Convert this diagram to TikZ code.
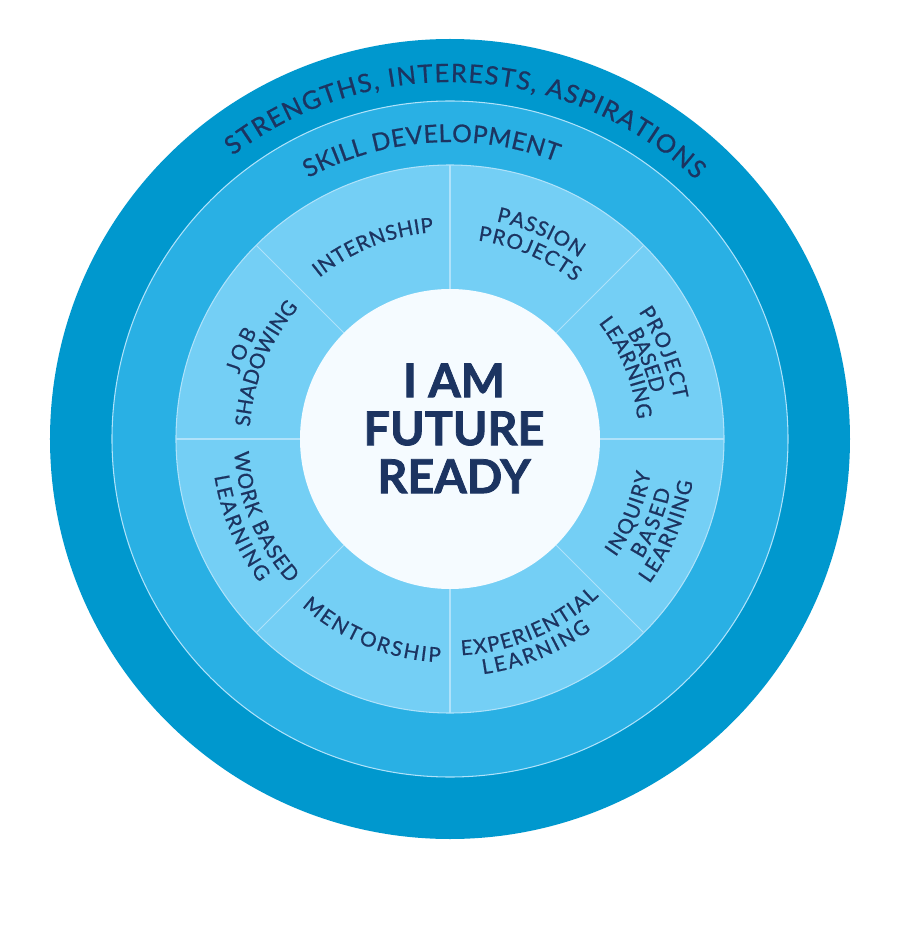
\documentclass[tikz,border=0pt]{standalone}
\usepackage{fontspec}
\setmainfont{Lato}
\newfontfamily\labelfamily[FakeBold=0.7]{Lato}
\newfontfamily\heavyfamily[BoldFeatures={FakeBold=1.6}]{Lato}
\usetikzlibrary{decorations.text}
\definecolor{navy}{RGB}{28,52,97}
\definecolor{outerblue}{RGB}{0,152,206}
\definecolor{midblue}{RGB}{41,176,228}
\definecolor{innerblue}{RGB}{116,207,245}
\definecolor{coreblue}{RGB}{245,251,255}
\definecolor{lineblue}{RGB}{175,226,250}
\newcommand\outerfont{\labelfamily\fontsize{14.4}{14.4}\selectfont}
\newcommand\skillfont{\labelfamily\fontsize{14}{14}\selectfont}
\newcommand\wedgefont{\labelfamily\fontsize{11.7}{11.7}\selectfont}

\begin{document}
\begin{tikzpicture}[x=0.02cm, y=0.02cm,
    arctext/.style={decorate, decoration={text along path, text align=fit to path, text color=navy, text={#1}}},
    ringline/.style={draw=lineblue, line width=0.6pt}]
  \fill[white] (-450,-501) rectangle (450,439);
  \useasboundingbox (-450,-501) rectangle (450,439);

  \fill[outerblue] (0,0) circle[radius=400];
  \fill[midblue]   (0,0) circle[radius=338];
  \fill[innerblue] (0,0) circle[radius=274];
  \draw[ringline]  (0,0) circle[radius=338];
  \draw[ringline]  (0,0) circle[radius=274];
  \foreach \a in {0,45,...,315}
    \draw[ringline] (\a:150) -- (\a:274);
  \fill[coreblue]  (0,0) circle[radius=150];

  \node[font=\heavyfamily\bfseries\fontsize{26.6}{27.3}\selectfont, text=navy, align=center, inner sep=0pt]
        (ready) at (4,10.7) {I AM\\FUTURE\\READY};

  \path[arctext={|\outerfont|STRENGTHS, INTERESTS, ASPIRATIONS}]
        (127.5:357) arc[start angle=127.5, end angle=46.5, radius=357];
  \path[arctext={|\skillfont|SKILL DEVELOPMENT}]
        (118.5:297) arc[start angle=118.5, end angle=69, radius=297];

  \path[arctext={|\wedgefont|INTERNSHIP}]
        (129:207.5) arc[start angle=129, end angle=94.5, radius=207.5];
  \path[arctext={|\wedgefont|PASSION}]
        (78:222.5) arc[start angle=78, end angle=54.5, radius=222.5];
  \path[arctext={|\wedgefont|PROJECTS}]
        (82:200.5) arc[start angle=82, end angle=51.5, radius=200.5];
  \path[arctext={|\wedgefont|PROJECT}]
        (34:227.5) arc[start angle=34, end angle=10, radius=227.5];
  \path[arctext={|\wedgefont|BASED}]
        (31:206.5) arc[start angle=31, end angle=13.5, radius=206.5];
  \path[arctext={|\wedgefont|LEARNING}]
        (38:188.5) arc[start angle=38, end angle=6, radius=188.5];
  \path[arctext={|\wedgefont|JOB}]
        (163:220.5) arc[start angle=163, end angle=151, radius=220.5];
  \path[arctext={|\wedgefont|SHADOWING}]
        (176.5:200.5) arc[start angle=176.5, end angle=139, radius=200.5];

  \path[arctext={|\wedgefont|INQUIRY}]
        (-35.5:203.5) arc[start angle=-35.5, end angle=-9.5, radius=203.5];
  \path[arctext={|\wedgefont|BASED}]
        (-32:226.5) arc[start angle=-32, end angle=-13, radius=226.5];
  \path[arctext={|\wedgefont|LEARNING}]
        (-36:246.5) arc[start angle=-36, end angle=-10, radius=246.5];
  \path[arctext={|\wedgefont|EXPERIENTIAL}]
        (-87:216.5) arc[start angle=-87, end angle=-46.5, radius=216.5];
  \path[arctext={|\wedgefont|LEARNING}]
        (-82:237.5) arc[start angle=-82, end angle=-53.5, radius=237.5];
  \path[arctext={|\wedgefont|MENTORSHIP}]
        (228.5:223.5) arc[start angle=228.5, end angle=267.5, radius=223.5];
  \path[arctext={|\wedgefont|WORK BASED}]
        (183.5:216) arc[start angle=183.5, end angle=222, radius=216];
  \path[arctext={|\wedgefont|LEARNING}]
        (189:238.5) arc[start angle=189, end angle=217, radius=238.5];
\end{tikzpicture}
\end{document}
